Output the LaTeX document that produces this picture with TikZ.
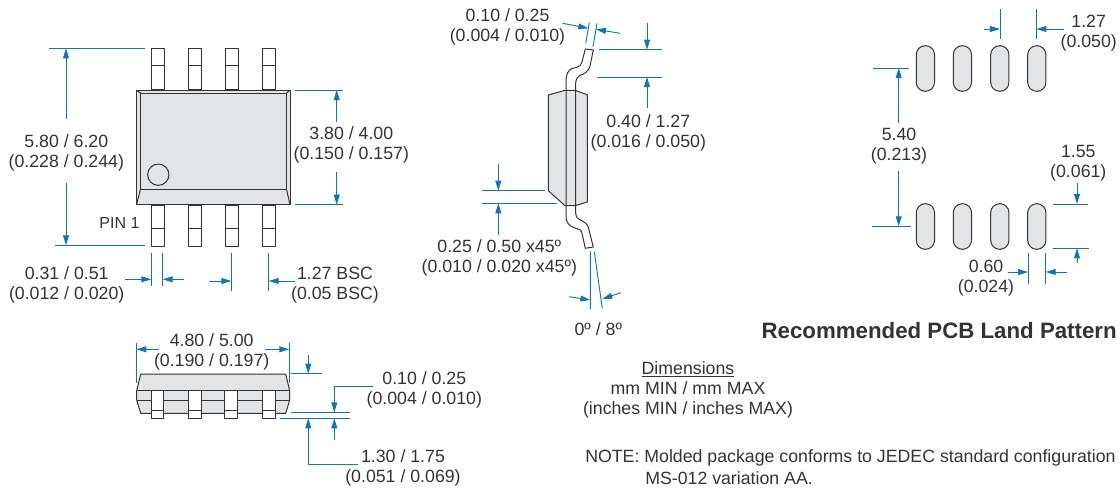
\documentclass[tikz,border=0pt]{standalone}
\usepackage{fontspec}
\setmainfont{Liberation Sans}
\usetikzlibrary{arrows.meta}
\definecolor{dimblue}{HTML}{0F75B4}
\definecolor{ink}{HTML}{333333}
\definecolor{bodygrey}{HTML}{E3E4E5}
\tikzset{
  outline/.style={draw=ink,line width=0.75pt,line join=round},
  padshape/.style={outline,fill=bodygrey,rounded corners=6.7pt},
  pinbox/.style={outline,fill=white},
  dimline/.style={draw=dimblue,line width=0.7pt},
  dimarrow/.style={dimline,-{Triangle[length=7.5pt,width=4.4pt]}},
  dimtext/.style={text=ink,align=center,inner sep=0pt,yshift=-1pt,font=\fontsize{13.3}{15}\selectfont},
  lefttext/.style={text=ink,align=left,inner sep=0pt,anchor=west,yshift=-1pt,font=\fontsize{13.3}{15}\selectfont}
}
\begin{document}
\begin{tikzpicture}[x=0.75pt,y=-0.75pt]
\useasboundingbox (0,0) rectangle (1120,489);

% ---------- top view
\foreach \px in {151.5,188.5,225.5,262.5}{
  \draw[pinbox] (\px,48) rectangle ++(12.5,41.5);
  \draw[outline] (\px,65.7) -- ++(12.5,0);
  \draw[pinbox] (\px,205) rectangle ++(12.5,41);
  \draw[outline] (\px,228) -- ++(12.5,0);
}
\draw[outline,fill=bodygrey] (136.5,90) rectangle (290,204.7);
\draw[outline,fill=bodygrey] (140.5,93.3) rectangle (286.5,189.3);
\draw[outline] (136.5,90) -- (140.5,93.3) (290,90) -- (286.5,93.3)
  (136.5,204.7) -- (140.5,189.3) (290,204.7) -- (286.5,189.3);
\node[circle,draw=ink,line width=0.75pt,minimum size=16pt,inner sep=0pt] (pinmark) at (158.3,174.7) {};
\node[text=ink,inner sep=0pt,font=\fontsize{12}{14}\selectfont] (pinlabel) at (119.5,222.7) {PIN 1};

\draw[dimline] (48.7,48.3) -- (145,48.3) (55.3,245.3) -- (145,245.3);
\node[dimtext] (t580) at (66.3,151.3) {5.80 / 6.20\\(0.228 / 0.244)};
\draw[dimarrow] (66,119) -- (66,48.3);
\draw[dimarrow] (66,183) -- (66,245.3);

\draw[dimline] (295.3,90) -- (342.7,90) (295.3,204.7) -- (342.7,204.7);
\node[dimtext] (t380) at (351.3,144) {3.80 / 4.00\\(0.150 / 0.157)};
\draw[dimarrow] (336.7,121.7) -- (336.7,90);
\draw[dimarrow] (336.7,171.7) -- (336.7,204.7);

\draw[dimline] (151.3,253) -- (151.3,286) (162.7,253) -- (162.7,286)
  (231.3,253) -- (231.3,291) (268.7,253) -- (268.7,291);
\draw[dimarrow] (125,279.3) -- (151.3,279.3);
\draw[dimarrow] (183.7,279.3) -- (162.7,279.3);
\draw[dimarrow] (209,281) -- (231.3,281);
\draw[dimarrow] (295,281) -- (268.7,281);
\node[dimtext] (t031) at (66.7,283.5) {0.31 / 0.51\\(0.012 / 0.020)};
\node[dimtext] (t127b) at (335,283.5) {1.27 BSC\\(0.05 BSC)};

% ---------- side view
\draw[outline,fill=bodygrey] (548.3,95) -- (565,90.3) -- (575,90.3) -- (587.3,94.7) -- (587.3,202)
  -- (575,205.7) -- (565,205.7) -- (548.3,190.7) -- cycle;
\draw[outline] (585.3,49) -- (593.3,50) -- (590,66)
  .. controls (589,71) and (584,74) .. (581,75)
  .. controls (578,76) and (575.7,79) .. (575.7,83) -- (575.7,213)
  .. controls (575.7,217) and (578,219) .. (581.7,220.7)
  .. controls (585,222) and (587.5,224) .. (588.5,228)
  -- (593.3,247) -- (585.3,248.3) -- (581.7,232)
  .. controls (580.5,229) and (576,228.5) .. (573,227.3)
  .. controls (569,225.5) and (566,222) .. (566,216.7) -- (566,81)
  .. controls (566,75) and (568,70) .. (572,68.5)
  .. controls (575,67.5) and (580,68) .. (582,62) -- cycle;
\draw[outline] (565,90.3) -- (575,90.3) (565,205.7) -- (575,205.7);

\draw[dimline] (589.3,22.7) -- (585.7,43.3) (597,23.3) -- (593,46.7);
\draw[dimarrow] (562.7,23.3) -- (588.3,28.3);
\draw[dimarrow] (620,33.3) -- (596,29.3);
\node[dimtext] (t010a) at (507.5,25.5) {0.10 / 0.25\\(0.004 / 0.010)};

\draw[dimline] (599,49.7) -- (661.7,49.7) (597.3,77) -- (662.3,77);
\draw[dimarrow] (647,23.3) -- (647,49.7);
\draw[dimarrow] (647,108.3) -- (647,77);
\node[dimtext] (t040) at (648.3,132) {0.40 / 1.27\\(0.016 / 0.050)};

\draw[dimline] (482.3,190.7) -- (545,190.7) (482.3,203.3) -- (556.7,203.3);
\draw[dimarrow] (498.3,164.3) -- (498.3,190.7);
\draw[dimarrow] (498.3,235) -- (498.3,203.3);
\node[dimtext] (t025) at (499.3,256.5) {0.25 / 0.50 x45º\\(0.010 / 0.020 x45º)};

\draw[dimline] (590.3,251.7) -- (590.3,309.3) (594.3,251.7) -- (602.3,308.3);
\draw[dimarrow] (569.3,296.7) -- (590.3,300);
\draw[dimarrow] (620.7,292.7) -- (602.3,299);
\node[dimtext] (t08) at (598.3,328.3) {0º / 8º};

% ---------- land pattern
\foreach \px in {916.3,953.3,990.7,1027.7}{
  \draw[padshape] (\px,45.7) rectangle ++(18.2,45.6);
  \draw[padshape] (\px,203.7) rectangle ++(18.2,45.6);
}
\draw[dimline] (1000,9.3) -- (1000,39.3) (1036.3,9.3) -- (1036.3,39.3);
\draw[dimarrow] (984,29) -- (1000,29);
\draw[dimarrow] (1064.3,29) -- (1036.3,29);
\node[dimtext] (t127) at (1088.7,32.3) {1.27\\(0.050)};

\draw[dimline] (873,68) -- (909.3,68) (872.3,226.3) -- (911.3,226.3);
\draw[dimarrow] (898.7,123.3) -- (898.7,68);
\draw[dimarrow] (898.7,171) -- (898.7,226.3);
\node[dimtext] (t540) at (899,144.5) {5.40\\(0.213)};

\draw[dimline] (1052.7,204) -- (1088,204) (1053,248.3) -- (1088.7,248.3);
\draw[dimarrow] (1077,183.3) -- (1077,204);
\draw[dimarrow] (1077,263.3) -- (1077,248.3);
\node[dimtext] (t155) at (1078.3,161.7) {1.55\\(0.061)};

\draw[dimline] (1028,252.7) -- (1028,283.7) (1045.7,252.7) -- (1045.7,283.7);
\draw[dimarrow] (1007.7,272) -- (1028,272);
\draw[dimarrow] (1066.7,272) -- (1045.7,272);
\node[dimtext] (t060) at (986,276.7) {0.60\\(0.024)};

\node[text=ink,inner sep=0pt,font=\fontsize{16.7}{20}\selectfont\bfseries,anchor=east] (title) at (1117,331) {Recommended PCB Land Pattern};

% ---------- front view
\draw[outline,fill=bodygrey] (136.7,390.7) -- (140.7,374) -- (285.7,374) -- (289.7,390.7) -- (289.7,400)
  -- (285.7,413.3) -- (140.7,413.3) -- (136.7,400) -- cycle;
\draw[outline] (136.7,390.7) -- (289.7,390.7) (136.7,400) -- (289.7,400);
\foreach \px in {151,188.3,224.3,262.7}{
  \draw[pinbox] (\px,390.7) rectangle ++(12.7,27.6);
  \draw[outline] (\px,410.3) -- ++(12.7,0);
}
\draw[dimline] (136.3,343.3) -- (136.3,382.7) (289.3,343.3) -- (289.3,382.7);
\draw[dimarrow] (159.3,349.3) -- (136.3,349.3);
\draw[dimarrow] (265,349.3) -- (289.3,349.3);
\node[dimtext] (t480) at (211.7,350.7) {4.80 / 5.00\\(0.190 / 0.197)};

\draw[dimline] (291.3,373.7) -- (321.7,373.7);
\draw[dimarrow] (308.3,355.3) -- (308.3,373.7);
\draw[dimline] (290.7,412.3) -- (350,412.3) (280.3,418.3) -- (350,418.3);
\draw[dimarrow] (373.3,386.3) -- (334.3,386.3) -- (334.3,412.3);
\draw[dimarrow] (334.3,440) -- (334.3,418.3);
\draw[dimarrow] (358.3,464.3) -- (308.3,464.3) -- (308.3,418.3);
\node[dimtext] (t010b) at (424.3,388.3) {0.10 / 0.25\\(0.004 / 0.010)};
\node[dimtext] (t130) at (403,467) {1.30 / 1.75\\(0.051 / 0.069)};

% ---------- notes
\node[dimtext] (legend) at (688,388.5) {\underline{Dimensions}\\mm MIN / mm MAX\\(inches MIN / inches MAX)};
\node[lefttext] (note1) at (585,457) {NOTE: Molded package conforms to JEDEC standard configuration};
\node[lefttext] (note2) at (645,477) {MS-012 variation AA.};
\end{tikzpicture}
\end{document}
